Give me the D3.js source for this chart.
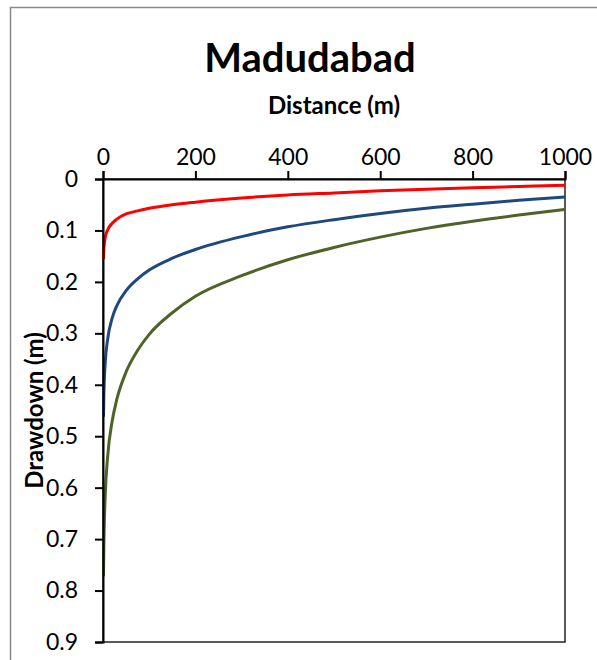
<!DOCTYPE html>
<html>
<head>
<meta charset="utf-8">
<script src="https://cdn.jsdelivr.net/npm/d3@7"></script>
<style>
  body { margin: 0; background: #fff; }
  text { font-family: Lato, "Open Sans", sans-serif; fill: #000; }
</style>
</head>
<body>
<div class="canva"></div>
<script>
// distances from the well (m)
const distance = [1, 2, 5, 10, 20, 30, 50, 75, 100, 150, 200, 300, 400, 500, 600, 700, 800, 900, 1000];

// drawdown (m)
const redSeries = [0.156, 0.135, 0.113, 0.099, 0.086, 0.078, 0.068, 0.062, 0.057, 0.050, 0.045, 0.037, 0.031, 0.027, 0.023, 0.020, 0.017, 0.0145, 0.012];
const blueSeries = [0.462, 0.415, 0.355, 0.312, 0.270, 0.246, 0.217, 0.194, 0.177, 0.154, 0.137, 0.112, 0.093, 0.079, 0.067, 0.057, 0.049, 0.0415, 0.035];
const greenSeries = [0.772, 0.705, 0.612, 0.540, 0.470, 0.428, 0.375, 0.333, 0.302, 0.260, 0.228, 0.188, 0.157, 0.133, 0.113, 0.096, 0.082, 0.070, 0.059];

const xTicks = [0, 200, 400, 600, 800, 1000];
const yTicks = [0, 0.1, 0.2, 0.3, 0.4, 0.5, 0.6, 0.7, 0.8, 0.9];

const series = [
  { values: greenSeries, color: "#4f6228" },
  { values: blueSeries, color: "#1f497d" },
  { values: redSeries, color: "#ff0000" }
];

const svg = d3.select(".canva").append("svg").attr("width", 597).attr("height", 660);

// chart border (runs off the right and bottom edge)
svg.append("rect")
  .attr("x", 10.5).attr("y", 7.5)
  .attr("width", 640).attr("height", 700)
  .attr("fill", "#fff")
  .attr("stroke", "#888")
  .attr("stroke-width", 1.5);

const plotL = 103, plotR = 565, plotT = 179, plotB = 642;

const x = d3.scaleLinear().domain([0, 1000]).range([plotL, plotR]);
const y = d3.scaleLinear().domain([0, 0.9]).range([plotT, plotB]);

// plot area border
svg.append("rect")
  .attr("x", plotL).attr("y", plotT)
  .attr("width", plotR - plotL).attr("height", plotB - plotT)
  .attr("fill", "none")
  .attr("stroke", "#222")
  .attr("stroke-width", 1.5);

const line = d3.line()
  .x((d, i) => x(distance[i]))
  .y(d => y(d))
  .curve(d3.curveMonotoneX);

svg.selectAll("path.series")
  .data(series)
  .join("path")
  .attr("class", "series")
  .attr("d", d => line(d.values))
  .attr("fill", "none")
  .attr("stroke", d => d.color)
  .attr("stroke-width", 3)
  .attr("stroke-linejoin", "round");

// x axis along the top
const xAxis = svg.append("g")
  .attr("transform", `translate(0,${plotT})`)
  .call(d3.axisTop(x).tickValues(xTicks).tickSize(8).tickPadding(6).tickFormat(d3.format("d")));

// y axis on the left
const yAxis = svg.append("g")
  .attr("transform", `translate(${plotL},0)`)
  .call(d3.axisLeft(y).tickValues(yTicks).tickSize(8).tickPadding(17).tickFormat(d => d === 0 ? "0" : d3.format(".1f")(d)));

[xAxis, yAxis].forEach(g => {
  g.select(".domain").attr("stroke", "#000").attr("stroke-width", 2);
  g.selectAll(".tick line").attr("stroke", "#000").attr("stroke-width", 2);
  g.selectAll(".tick text")
    .attr("font-family", "Lato, sans-serif")
    .attr("font-size", 23)
    .attr("fill", "#000");
});

svg.append("text")
  .text("Madudabad")
  .attr("x", 310)
  .attr("y", 72)
  .attr("text-anchor", "middle")
  .attr("font-size", 40)
  .attr("font-weight", "bold");

svg.append("text")
  .text("Distance (m)")
  .attr("x", (plotL + plotR) / 2)
  .attr("y", 114)
  .attr("text-anchor", "middle")
  .attr("font-size", 24)
  .attr("font-weight", "bold");

svg.append("text")
  .text("Drawdown (m)")
  .attr("transform", `translate(43,${(plotT + plotB) / 2}) rotate(-90)`)
  .attr("text-anchor", "middle")
  .attr("font-size", 24)
  .attr("font-weight", "bold");
</script>
</body>
</html>
